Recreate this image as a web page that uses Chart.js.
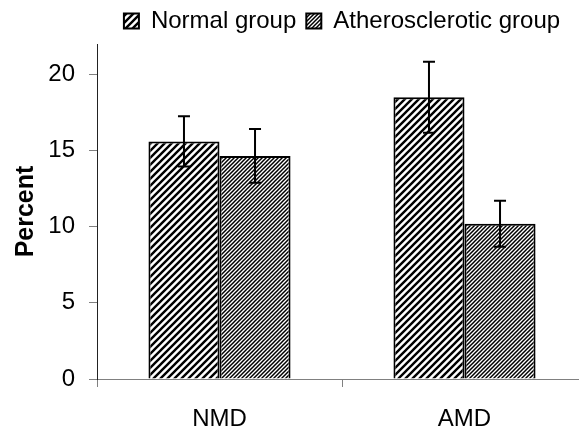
<!DOCTYPE html>
<html>
<head>
<meta charset="utf-8">
<script src="https://cdn.jsdelivr.net/npm/chart.js@4"></script>
<style>
  html, body { margin: 0; padding: 0; background: #fff; overflow: hidden; }
  #wrap { width: 600px; height: 432px; }
</style>
</head>
<body>
<div id="wrap"><canvas id="grafica"></canvas></div>
<script>
// Datos
const categorias = ["NMD", "AMD"];
const normalValores = [15.6, 18.5];
const normalError = [1.65, 2.33];
const ateroValores = [14.65, 10.2];
const ateroError = [1.77, 1.51];
const ticksY = [0, 5, 10, 15, 20];

// Tramas rayadas para las barras
function crearTrama(tam, grosor) {
    const c = document.createElement("canvas");
    c.width = tam;
    c.height = tam;
    const ctx = c.getContext("2d");
    ctx.fillStyle = "#fff";
    ctx.fillRect(0, 0, tam, tam);
    ctx.strokeStyle = "#000";
    ctx.lineWidth = grosor;
    ctx.beginPath();
    ctx.moveTo(-1, tam + 1); ctx.lineTo(tam + 1, -1);
    ctx.moveTo(-tam / 2, tam / 2); ctx.lineTo(tam / 2, -tam / 2);
    ctx.moveTo(tam / 2, tam * 1.5); ctx.lineTo(tam * 1.5, tam / 2);
    ctx.stroke();
    return ctx.createPattern(c, "repeat");
}

const tramaNormal = crearTrama(7, 2.4);
const tramaAtero = crearTrama(4, 1.5);

// Barras de error dibujadas con las escalas del grafico
const barrasError = {
    id: "barrasError",
    afterDatasetsDraw(chart) {
        const ctx = chart.ctx;
        const escalaY = chart.scales.y;
        const errores = [normalError, ateroError];
        chart.data.datasets.forEach((ds, i) => {
            const meta = chart.getDatasetMeta(i);
            meta.data.forEach((barra, j) => {
                const v = ds.data[j];
                const e = errores[i][j];
                const yArriba = escalaY.getPixelForValue(v + e);
                const yAbajo = escalaY.getPixelForValue(v - e);
                ctx.save();
                ctx.strokeStyle = "#000";
                ctx.lineWidth = 2;
                ctx.beginPath();
                ctx.moveTo(barra.x, yArriba);
                ctx.lineTo(barra.x, yAbajo);
                ctx.moveTo(barra.x - 6, yArriba);
                ctx.lineTo(barra.x + 6, yArriba);
                ctx.moveTo(barra.x - 6, yAbajo);
                ctx.lineTo(barra.x + 6, yAbajo);
                ctx.stroke();
                ctx.restore();
            });
        });
    }
};

// Sube un poco la leyenda
const ajusteLeyenda = {
    id: "ajusteLeyenda",
    afterLayout(chart) {
        if (chart.legend) {
            chart.legend.top -= 1;
            chart.legend.bottom -= 1;
        }
    }
};

const fuente = "'Liberation Sans', Arial, sans-serif";

new Chart(document.getElementById("grafica"), {
    type: "bar",
    data: {
        labels: categorias,
        datasets: [
            {
                label: "Normal group",
                data: normalValores,
                backgroundColor: tramaNormal,
                borderColor: "#000",
                borderWidth: 2,
                categoryPercentage: 0.58,
                barPercentage: 1.0
            },
            {
                label: "Atherosclerotic group",
                data: ateroValores,
                backgroundColor: tramaAtero,
                borderColor: "#000",
                borderWidth: 2,
                categoryPercentage: 0.58,
                barPercentage: 1.0
            }
        ]
    },
    options: {
        responsive: true,
        maintainAspectRatio: false,
        animation: false,
        layout: { padding: { left: 0, right: 13, top: 0, bottom: 0 } },
        plugins: {
            tooltip: { enabled: false },
            legend: {
                position: "top",
                fullSize: false,
                align: "center",
                labels: {
                    boxWidth: 15,
                    boxHeight: 15,
                    padding: 10,
                    color: "#000",
                    font: { family: fuente, size: 24 }
                }
            }
        },
        scales: {
            x: {
                afterFit: (escala) => { escala.height = 53; },
                border: { display: true, color: "#808080", width: 1 },
                grid: {
                    display: true,
                    offset: true,
                    drawOnChartArea: false,
                    drawTicks: true,
                    tickLength: 8,
                    color: "#808080"
                },
                ticks: {
                    color: "#000",
                    padding: 18,
                    font: { family: fuente, size: 24 }
                }
            },
            y: {
                min: 0,
                max: 22,
                afterFit: (escala) => { escala.width = 97; },
                afterBuildTicks: (escala) => {
                    escala.ticks = ticksY.map(v => ({ value: v }));
                },
                border: { display: true, color: "#222", width: 1 },
                grid: {
                    display: true,
                    drawOnChartArea: false,
                    drawTicks: true,
                    tickLength: 8,
                    color: "#808080"
                },
                ticks: {
                    color: "#000",
                    padding: 14,
                    includeBounds: false,
                    font: { family: fuente, size: 24 }
                },
                title: {
                    display: true,
                    text: "Percent",
                    color: "#000",
                    padding: { top: 11, bottom: 0 },
                    font: { family: fuente, size: 25, weight: "bold" }
                }
            }
        }
    },
    plugins: [barrasError, ajusteLeyenda]
});
</script>
</body>
</html>
